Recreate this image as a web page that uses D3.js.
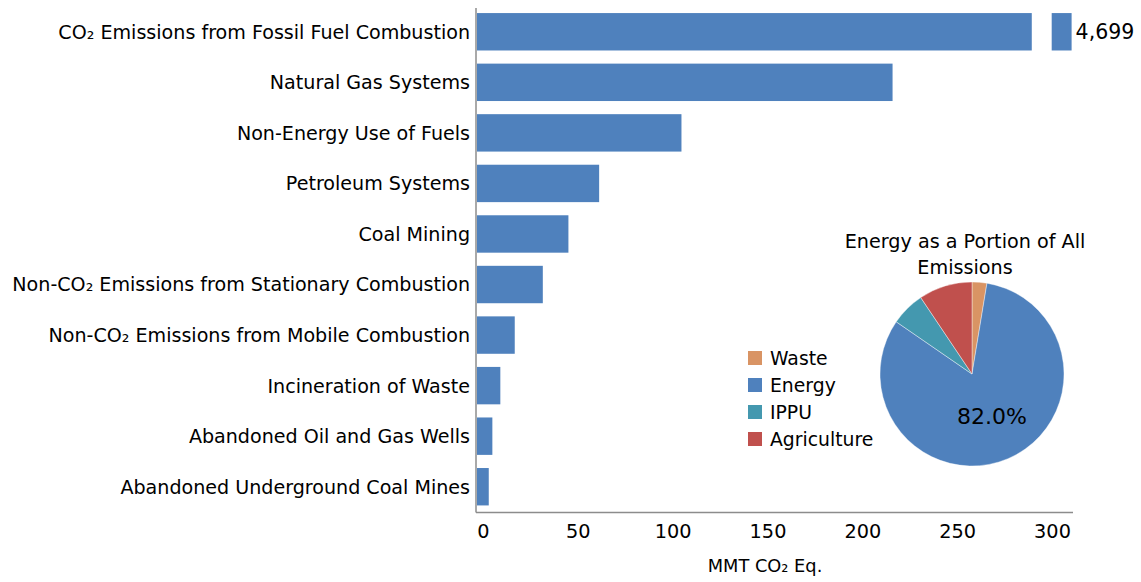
<!DOCTYPE html>
<html>
<head>
<meta charset="utf-8">
<script src="https://cdn.jsdelivr.net/npm/d3@7"></script>
<style>
  body { margin: 0; background: #fff; }
  text { font-family: "DejaVu Sans", sans-serif; fill: #000; }
</style>
</head>
<body>
<svg width="1141" height="582"></svg>
<script>
// sources, largest first
var sources = [
    "CO\u2082 Emissions from Fossil Fuel Combustion",
    "Natural Gas Systems",
    "Non-Energy Use of Fuels",
    "Petroleum Systems",
    "Coal Mining",
    "Non-CO\u2082 Emissions from Stationary Combustion",
    "Non-CO\u2082 Emissions from Mobile Combustion",
    "Incineration of Waste",
    "Abandoned Oil and Gas Wells",
    "Abandoned Underground Coal Mines"
];
var emissions = [4699, 219.1, 107.8, 64.4, 48.2, 34.7, 19.9, 12.3, 8.1, 6.2];
var xTicks = [0, 50, 100, 150, 200, 250, 300];

// pie: share of all emissions
var sectors = ["Waste", "Energy", "IPPU", "Agriculture"];
var sectorShare = [2.6, 82.0, 6.0, 9.4];
var sectorColors = ["#D99464", "#4F81BD", "#4498AF", "#C0504D"];

var barColor = "#4F81BD";

var svg = d3.select("svg");

var xScale = d3.scaleLinear()
    .domain([0, 300])
    .range([477, 1046]);

var yScale = d3.scaleBand()
    .domain(sources)
    .range([6.5, 512])
    .paddingInner(0.26)
    .paddingOuter(0.13);

var axisRight = 1073;

// bars (first one is broken, too big for the scale)
var breakLo = 292.5, breakHi = 303, stubEnd = 313.5;
sources.forEach(function (s, i) {
    var v = emissions[i];
    var y = yScale(s), h = yScale.bandwidth();
    if (v > 300) {
        svg.append("rect")
            .attr("x", xScale(0)).attr("y", y)
            .attr("width", xScale(breakLo) - xScale(0)).attr("height", h)
            .attr("fill", barColor);
        svg.append("rect")
            .attr("x", xScale(breakHi)).attr("y", y)
            .attr("width", xScale(stubEnd) - xScale(breakHi)).attr("height", h)
            .attr("fill", barColor);
        svg.append("text")
            .attr("x", xScale(stubEnd) + 4)
            .attr("y", y + h / 2)
            .attr("dy", "0.36em")
            .style("font-size", "20.5px")
            .text(d3.format(",")(v));
    } else {
        svg.append("rect")
            .attr("x", xScale(0)).attr("y", y)
            .attr("width", xScale(v) - xScale(0)).attr("height", h)
            .attr("fill", barColor);
    }
});

// category labels
svg.selectAll(".cat")
    .data(sources)
    .enter().append("text")
    .attr("class", "cat")
    .attr("x", 470)
    .attr("y", function (d) { return yScale(d) + yScale.bandwidth() / 2; })
    .attr("dy", "0.36em")
    .attr("text-anchor", "end")
    .style("font-size", "19.1px")
    .text(function (d) { return d; });

// axes lines
svg.append("line")
    .attr("x1", 476).attr("x2", 476).attr("y1", 8).attr("y2", 512.5)
    .attr("stroke", "#8c8c8c").attr("stroke-width", 1.5);
svg.append("line")
    .attr("x1", 476).attr("x2", axisRight).attr("y1", 512.5).attr("y2", 512.5)
    .attr("stroke", "#8c8c8c").attr("stroke-width", 1.5);

var xAxis = svg.append("g")
    .attr("transform", "translate(6,512)")
    .call(d3.axisBottom(xScale).tickValues(xTicks).tickSize(0).tickPadding(12));
xAxis.select(".domain").remove();
xAxis.selectAll("text")
    .style("font-family", "'DejaVu Sans', sans-serif")
    .style("font-size", "19.3px")
    .attr("fill", "#000");

svg.append("text")
    .attr("x", 765).attr("y", 572)
    .attr("text-anchor", "middle")
    .style("font-size", "17.8px")
    .text("MMT CO\u2082 Eq.");

// pie
var cx = 972, cy = 374, r = 92;
var pieData = sectors.map(function (s, i) { return { name: s, value: sectorShare[i], color: sectorColors[i] }; });
var pie = d3.pie().sort(null).value(function (d) { return d.value; });
var arc = d3.arc().innerRadius(0).outerRadius(r);

var pg = svg.append("g").attr("transform", "translate(" + cx + "," + cy + ")");
pg.selectAll("path")
    .data(pie(pieData))
    .enter().append("path")
    .attr("d", arc)
    .attr("fill", function (d) { return d.data.color; })
    .attr("stroke", "#fff")
    .attr("stroke-width", 0.4);

pg.append("text")
    .attr("x", 20).attr("y", 50)
    .attr("text-anchor", "middle")
    .style("font-size", "22px")
    .text(d3.format(".1f")(sectorShare[1]) + "%");

var title = svg.append("text")
    .attr("text-anchor", "middle")
    .style("font-size", "19.2px");
title.append("tspan").attr("x", 965).attr("y", 248).text("Energy as a Portion of All");
title.append("tspan").attr("x", 965).attr("y", 274).text("Emissions");

// legend
var lg = svg.append("g").attr("transform", "translate(748,351)");
sectors.forEach(function (s, i) {
    lg.append("rect")
        .attr("x", 0).attr("y", i * 27)
        .attr("width", 14).attr("height", 14)
        .attr("fill", sectorColors[i]);
    lg.append("text")
        .attr("x", 22).attr("y", i * 27 + 7)
        .attr("dy", "0.36em")
        .style("font-size", "18.8px")
        .text(s);
});
</script>
</body>
</html>
